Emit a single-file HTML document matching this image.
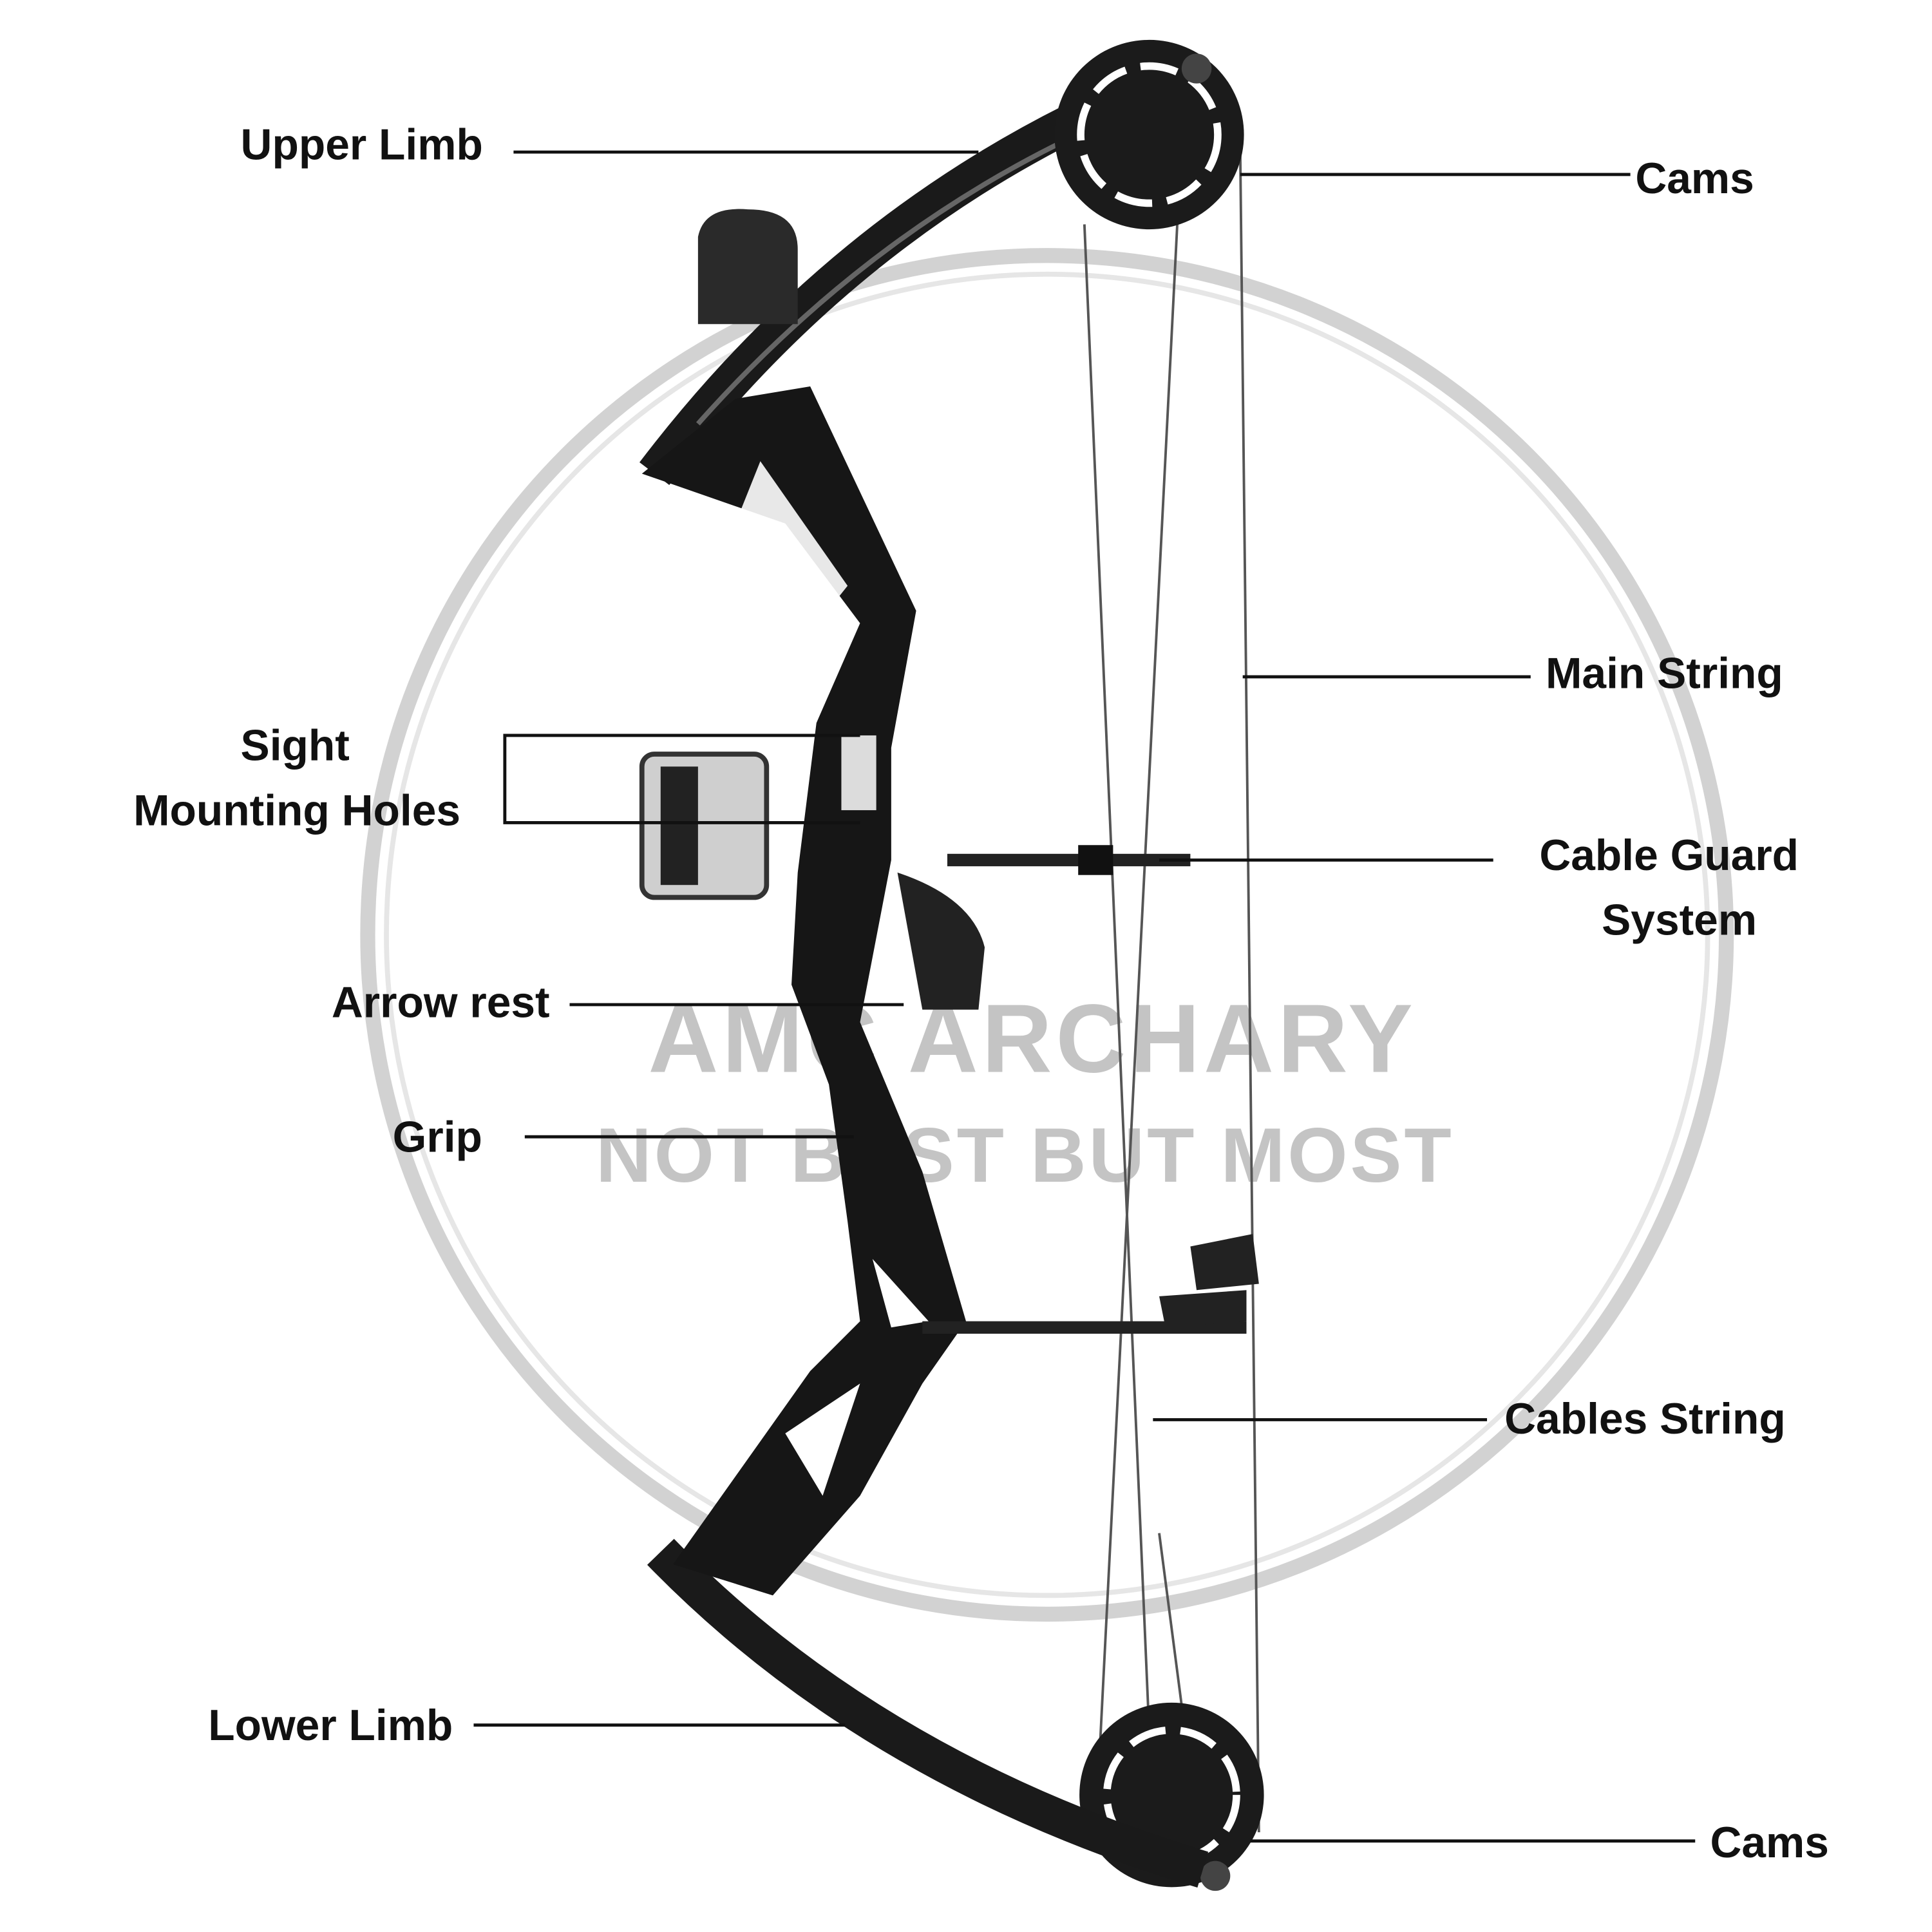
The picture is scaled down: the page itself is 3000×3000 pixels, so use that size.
<!DOCTYPE html>
<html><head><meta charset="utf-8"><style>
html,body{margin:0;padding:0;background:#fff;}
svg{display:block;}
.l{font-family:"Liberation Sans",sans-serif;font-weight:bold;font-size:35px;fill:#111;}
.w{font-family:"Liberation Sans",sans-serif;font-weight:900;fill:#c4c4c4;}
</style></head><body>
<svg width="3000" height="3000" viewBox="0 0 1550 1550" xmlns="http://www.w3.org/2000/svg">
<rect width="1550" height="1550" fill="#fff"/>
<!-- watermark ring -->
<circle cx="840" cy="750" r="545" fill="none" stroke="#d2d2d2" stroke-width="12"/>
<circle cx="840" cy="750" r="530" fill="none" stroke="#e6e6e6" stroke-width="4"/>
<text class="w" x="520" y="860" font-size="78" letter-spacing="3">AMC ARCHARY</text>
<text class="w" x="478" y="948" font-size="62" letter-spacing="2">NOT BEST BUT MOST</text>
<!-- strings -->
<g stroke="#555" stroke-width="2" fill="none">
<line x1="995" y1="120" x2="1010" y2="1470"/>
<line x1="870" y1="180" x2="925" y2="1460"/>
<line x1="945" y1="170" x2="880" y2="1450"/>
<line x1="930" y1="1230" x2="960" y2="1460"/>
</g>
<!-- upper limb -->
<path d="M525 380 Q700 150 960 55" stroke="#1a1a1a" stroke-width="30" fill="none"/>
<path d="M560 340 Q720 160 930 80" stroke="#666" stroke-width="4" fill="none"/>
<!-- quiver -->
<path d="M560 260 L560 190 Q565 165 600 168 Q640 168 640 200 L640 260 Z" fill="#2a2a2a"/>
<!-- cams -->
<circle cx="922" cy="108" r="76" fill="#1b1b1b"/>
<circle cx="922" cy="108" r="55" fill="none" stroke="#fff" stroke-width="6" stroke-dasharray="30 12"/>
<circle cx="960" cy="55" r="12" fill="#444"/>
<circle cx="940" cy="1440" r="74" fill="#1b1b1b"/>
<circle cx="940" cy="1440" r="52" fill="none" stroke="#fff" stroke-width="6" stroke-dasharray="30 12"/>
<circle cx="975" cy="1505" r="12" fill="#444"/>
<!-- lower limb -->
<path d="M530 1245 Q700 1420 965 1500" stroke="#1a1a1a" stroke-width="30" fill="none"/>
<!-- riser -->
<path d="M515 380 L590 320 L650 310 L735 490 L715 600 L715 690 L690 820 L740 940 L775 1060 L740 1110 L690 1200 L620 1280 L540 1255 L650 1100 L690 1060 L680 980 L665 870 L635 790 L640 700 L655 580 L690 500 L630 420 Z" fill="#161616"/>
<path d="M610 370 L680 470 L640 520 L590 420 Z" fill="#fff" opacity="0.9"/>
<rect x="675" y="590" width="28" height="60" fill="#fff" opacity="0.85"/>
<path d="M700 1010 L745 1060 L715 1065 Z" fill="#fff"/>
<path d="M630 1150 L690 1110 L660 1200 Z" fill="#fff"/>
<!-- sight -->
<rect x="515" y="605" width="100" height="115" rx="10" fill="#cfcfcf" stroke="#333" stroke-width="4"/>
<rect x="530" y="615" width="30" height="95" fill="#222"/>
<!-- rods -->
<rect x="760" y="685" width="195" height="10" fill="#222"/>
<rect x="865" y="678" width="28" height="24" fill="#111"/>
<rect x="740" y="1060" width="260" height="10" fill="#222"/>
<path d="M930 1040 L1000 1035 L1000 1060 L935 1065 Z M955 1000 L1005 990 L1010 1030 L960 1035 Z" fill="#222"/>
<path d="M720 700 Q780 720 790 760 L785 810 L740 810 Z" fill="#222"/>
<!-- leader lines -->
<g stroke="#111" stroke-width="2.5" fill="none">
<line x1="412" y1="122" x2="785" y2="122"/>
<line x1="995" y1="140" x2="1308" y2="140"/>
<line x1="997" y1="543" x2="1228" y2="543"/>
<polyline points="690,590 405,590 405,660 690,660"/>
<line x1="930" y1="690" x2="1198" y2="690"/>
<line x1="457" y1="806" x2="725" y2="806"/>
<line x1="421" y1="912" x2="685" y2="912"/>
<line x1="925" y1="1139" x2="1193" y2="1139"/>
<line x1="380" y1="1384" x2="678" y2="1384"/>
<line x1="1003" y1="1477" x2="1360" y2="1477"/>
</g>
<!-- labels -->
<text class="l" x="193" y="128">Upper Limb</text>
<text class="l" x="1312" y="155">Cams</text>
<text class="l" x="1240" y="552">Main String</text>
<text class="l" x="193" y="610">Sight</text>
<text class="l" x="107" y="662">Mounting Holes</text>
<text class="l" x="1235" y="698">Cable Guard</text>
<text class="l" x="1285" y="750">System</text>
<text class="l" x="266" y="816">Arrow rest</text>
<text class="l" x="315" y="924">Grip</text>
<text class="l" x="1207" y="1150">Cables String</text>
<text class="l" x="167" y="1396">Lower Limb</text>
<text class="l" x="1372" y="1490">Cams</text>
</svg>
</body></html>
